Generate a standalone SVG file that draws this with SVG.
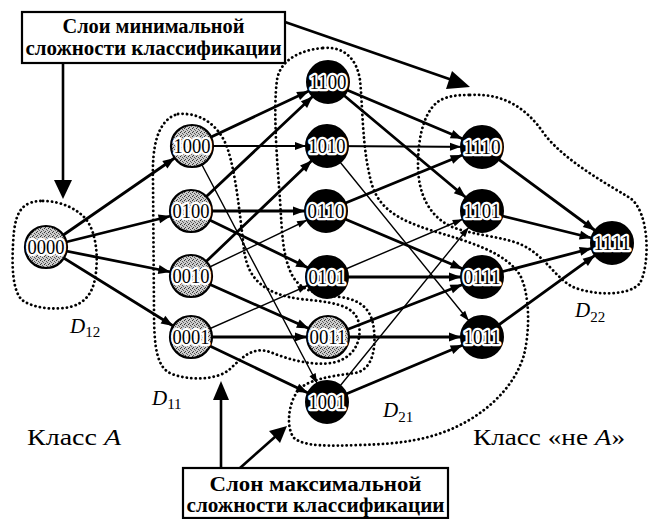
<svg xmlns="http://www.w3.org/2000/svg" width="650" height="519" viewBox="0 0 650 519">
<style>
.e{fill:none;stroke:#000;stroke-linecap:round}
.tk{stroke-width:2.8;marker-end:url(#ah)}
.md{stroke-width:2;marker-end:url(#ah2)}
.tn{stroke-width:1.4;marker-end:url(#ah3)}
.dot{fill:none;stroke:#000;stroke-width:2.8;stroke-dasharray:0.1 4.4;stroke-linecap:round}
.g circle{fill:url(#stip);stroke:#000;stroke-width:2.2}
.b circle{fill:#000;stroke:#000;stroke-width:2}
.lbl{font-family:"Liberation Serif",serif;font-size:20px;text-anchor:middle;fill:#000;stroke:#fff;stroke-width:4.5;paint-order:stroke;stroke-linejoin:round}
.box{fill:#fff;stroke:#000;stroke-width:2.2}
.bt{font-family:"Liberation Serif",serif;font-size:20px;font-weight:bold;text-anchor:middle}
.cl{font-family:"Liberation Serif",serif;font-size:24px}
.dl{font-family:"Liberation Serif",serif;font-size:21px;font-style:italic}
.sub{font-size:15px;font-style:normal}
.big{fill:none;stroke:#000;stroke-width:2.6}
</style>
<defs>
<pattern id="stip" width="4" height="4" patternUnits="userSpaceOnUse">
<rect width="4" height="4" fill="#cccccc"/>
<rect x="0" y="0" width="1" height="1" fill="#333"/>
<rect x="2" y="1" width="1" height="1" fill="#555"/>
<rect x="1" y="3" width="1" height="1" fill="#444"/>
<rect x="3" y="2" width="1" height="1" fill="#666"/>
</pattern>
<marker id="ah" markerUnits="userSpaceOnUse" orient="auto" refX="0" refY="0" markerWidth="1" markerHeight="1" overflow="visible"><path d="M -21 0 L -33 -4.5 L -33 4.5 Z" fill="#000"/></marker>
<marker id="ah2" markerUnits="userSpaceOnUse" orient="auto" refX="0" refY="0" markerWidth="1" markerHeight="1" overflow="visible"><path d="M -21 0 L -32 -4 L -32 4 Z" fill="#000"/></marker>
<marker id="ah3" markerUnits="userSpaceOnUse" orient="auto" refX="0" refY="0" markerWidth="1" markerHeight="1" overflow="visible"><path d="M -21 0 L -31 -3.5 L -31 3.5 Z" fill="#000"/></marker>
</defs>
<rect width="650" height="519" fill="#fff"/>

<g id="regions">
<path class="dot" d="M 43 201 C 62 201, 80 210, 88 222 C 96 235, 98 255, 96 272 C 94 292, 86 303, 70 307 C 55 310, 35 309, 22 300 C 12 290, 12 265, 13 245 C 14 225, 16 208, 30 203 C 35 201, 39 201, 43 201 Z"/>
<path class="dot" d="M 178 114 C 200 112, 220 125, 228 150 C 236 175, 240 215, 244 250 C 248 280, 265 294, 300 299 C 330 302, 352 304, 358 320 C 363 338, 356 356, 336 362 C 315 367, 290 360, 270 352 C 252 346, 242 358, 230 369 C 218 380, 190 381, 172 374 C 156 368, 154 345, 154 310 L 153 180 C 152 150, 156 120, 178 114 Z"/>
<path class="dot" d="M 323 48 C 345 46, 357 60, 360 80 C 363 110, 362 150, 372 185 C 380 210, 400 220, 430 230 C 470 242, 505 252, 520 275 C 530 295, 530 330, 524 355 C 515 385, 490 410, 460 425 C 430 440, 400 444, 360 445 C 330 446, 305 447, 294 438 C 286 428, 288 405, 297 392 C 305 380, 330 376, 355 373 C 372 370, 376 350, 374 330 C 372 310, 362 300, 340 297 C 315 294, 300 290, 292 275 C 282 255, 282 230, 280 200 C 277 160, 273 110, 277 80 C 280 60, 300 50, 323 48 Z"/>
<path class="dot" d="M 470 95 C 500 93, 525 105, 545 135 C 565 160, 600 180, 630 198 C 650 212, 650 265, 640 283 C 630 296, 595 296, 573 287 C 555 278, 545 255, 520 244 C 500 236, 470 235, 450 226 C 430 216, 418 195, 418 165 C 418 135, 425 105, 445 98 C 455 95, 462 95, 470 95 Z"/>
</g>

<g id="connectors">
<line class="e tk" x1="46" y1="247" x2="192" y2="146"/>
<line class="e tk" x1="46" y1="247" x2="191" y2="211"/>
<line class="e tk" x1="46" y1="247" x2="191" y2="276"/>
<line class="e tk" x1="46" y1="247" x2="191" y2="337"/>
<line class="e tk" x1="192" y1="146" x2="328" y2="82"/>
<line class="e md" x1="192" y1="146" x2="327" y2="146"/>
<line class="e tn" x1="192" y1="146" x2="327" y2="402"/>
<line class="e tk" x1="191" y1="211" x2="328" y2="82"/>
<line class="e tk" x1="191" y1="211" x2="326" y2="211"/>
<line class="e tk" x1="191" y1="211" x2="327" y2="277"/>
<line class="e tk" x1="191" y1="276" x2="327" y2="146"/>
<line class="e tn" x1="191" y1="276" x2="326" y2="211"/>
<line class="e tk" x1="191" y1="276" x2="328" y2="337"/>
<line class="e tn" x1="191" y1="337" x2="327" y2="277"/>
<line class="e tk" x1="191" y1="337" x2="328" y2="337"/>
<line class="e tk" x1="191" y1="337" x2="327" y2="402"/>
<line class="e tk" x1="328" y1="82" x2="482" y2="147"/>
<line class="e tk" x1="328" y1="82" x2="482" y2="211"/>
<line class="e md" x1="327" y1="146" x2="482" y2="147"/>
<line class="e tn" x1="327" y1="146" x2="482" y2="337"/>
<line class="e tk" x1="326" y1="211" x2="482" y2="147"/>
<line class="e tk" x1="326" y1="211" x2="482" y2="277"/>
<line class="e tn" x1="327" y1="277" x2="482" y2="211"/>
<line class="e tk" x1="327" y1="277" x2="482" y2="277"/>
<line class="e tk" x1="328" y1="337" x2="482" y2="277"/>
<line class="e tk" x1="328" y1="337" x2="482" y2="337"/>
<line class="e tn" x1="327" y1="402" x2="482" y2="211"/>
<line class="e tk" x1="327" y1="402" x2="482" y2="337"/>
<line class="e tk" x1="482" y1="147" x2="612" y2="243"/>
<line class="e tk" x1="482" y1="211" x2="612" y2="243"/>
<line class="e tk" x1="482" y1="277" x2="612" y2="243"/>
<line class="e tk" x1="482" y1="337" x2="612" y2="243"/>
</g>

<g id="n0000" class="g"><circle cx="46" cy="247" r="21"/><text class="lbl" x="46" y="254" textLength="37" lengthAdjust="spacingAndGlyphs">0000</text></g>
<g id="n1000" class="g"><circle cx="192" cy="146" r="21"/><text class="lbl" x="192" y="153" textLength="37" lengthAdjust="spacingAndGlyphs">1000</text></g>
<g id="n0100" class="g"><circle cx="191" cy="211" r="21"/><text class="lbl" x="191" y="218" textLength="37" lengthAdjust="spacingAndGlyphs">0100</text></g>
<g id="n0010" class="g"><circle cx="191" cy="276" r="21"/><text class="lbl" x="191" y="283" textLength="37" lengthAdjust="spacingAndGlyphs">0010</text></g>
<g id="n0001" class="g"><circle cx="191" cy="337" r="21"/><text class="lbl" x="191" y="344" textLength="37" lengthAdjust="spacingAndGlyphs">0001</text></g>
<g id="n1100" class="b"><circle cx="328" cy="82" r="21"/><text class="lbl" x="328" y="89" textLength="37" lengthAdjust="spacingAndGlyphs">1100</text></g>
<g id="n1010" class="b"><circle cx="327" cy="146" r="21"/><text class="lbl" x="327" y="153" textLength="37" lengthAdjust="spacingAndGlyphs">1010</text></g>
<g id="n0110" class="b"><circle cx="326" cy="211" r="21"/><text class="lbl" x="326" y="218" textLength="37" lengthAdjust="spacingAndGlyphs">0110</text></g>
<g id="n0101" class="b"><circle cx="327" cy="277" r="21"/><text class="lbl" x="327" y="284" textLength="37" lengthAdjust="spacingAndGlyphs">0101</text></g>
<g id="n0011" class="g"><circle cx="328" cy="337" r="21"/><text class="lbl" x="328" y="344" textLength="37" lengthAdjust="spacingAndGlyphs">0011</text></g>
<g id="n1001" class="b"><circle cx="327" cy="402" r="21"/><text class="lbl" x="327" y="409" textLength="37" lengthAdjust="spacingAndGlyphs">1001</text></g>
<g id="n1110" class="b"><circle cx="482" cy="147" r="21"/><text class="lbl" x="482" y="154" textLength="37" lengthAdjust="spacingAndGlyphs">1110</text></g>
<g id="n1101" class="b"><circle cx="482" cy="211" r="21"/><text class="lbl" x="482" y="218" textLength="37" lengthAdjust="spacingAndGlyphs">1101</text></g>
<g id="n0111" class="b"><circle cx="482" cy="277" r="21"/><text class="lbl" x="482" y="284" textLength="37" lengthAdjust="spacingAndGlyphs">0111</text></g>
<g id="n1011" class="b"><circle cx="482" cy="337" r="21"/><text class="lbl" x="482" y="344" textLength="37" lengthAdjust="spacingAndGlyphs">1011</text></g>
<g id="n1111" class="b"><circle cx="612" cy="243" r="21"/><text class="lbl" x="612" y="250" textLength="37" lengthAdjust="spacingAndGlyphs">1111</text></g>

<g id="minbox">
<rect class="box" x="22" y="12" width="263" height="51"/>
<text class="bt" x="153.5" y="33" textLength="182" lengthAdjust="spacingAndGlyphs">Слои минимальной</text>
<text class="bt" x="153.5" y="55" textLength="256" lengthAdjust="spacingAndGlyphs">сложности классификации</text>
<line class="big" x1="63" y1="63" x2="63" y2="182"/>
<path d="M 54 180 L 72 180 L 63 199 Z" fill="#000"/>
<line class="big" x1="285" y1="22" x2="455" y2="81"/>
<path d="M 470 87 L 446 89 L 452 71 Z" fill="#000"/>
</g>

<g id="maxbox">
<rect class="box" x="183" y="468" width="265" height="50"/>
<text class="bt" x="315.5" y="491" textLength="212" lengthAdjust="spacingAndGlyphs">Слон максимальной</text>
<text class="bt" x="315.5" y="512" textLength="258" lengthAdjust="spacingAndGlyphs">сложности классификации</text>
<line class="big" x1="221" y1="468" x2="221" y2="398"/>
<path d="M 213 400 L 229 400 L 221 381 Z" fill="#000"/>
<line class="big" x1="240" y1="468" x2="276" y2="436"/>
<path d="M 287 426 L 280 443 L 269 431 Z" fill="#000"/>
</g>

<g id="labels">
<text class="dl" x="70" y="333">D<tspan class="sub" dy="4">12</tspan></text>
<text class="dl" x="152" y="405">D<tspan class="sub" dy="4">11</tspan></text>
<text class="dl" x="383" y="417">D<tspan class="sub" dy="5">21</tspan></text>
<text class="dl" x="575" y="317">D<tspan class="sub" dy="5">22</tspan></text>
<text class="cl" x="27" y="445" textLength="94" lengthAdjust="spacingAndGlyphs">Класс <tspan font-style="italic">A</tspan></text>
<text class="cl" x="473" y="445" textLength="152" lengthAdjust="spacingAndGlyphs">Класс «не <tspan font-style="italic">A</tspan>»</text>
</g>
</svg>
